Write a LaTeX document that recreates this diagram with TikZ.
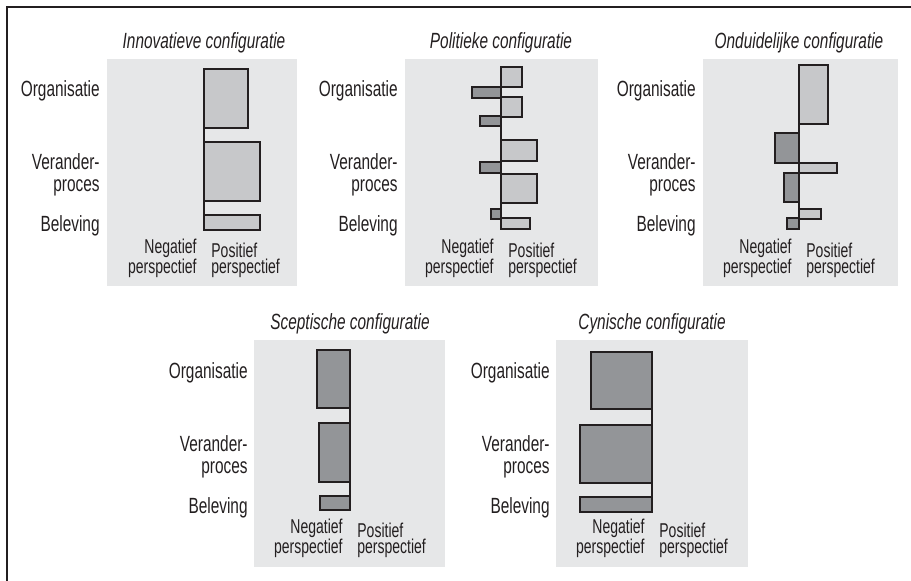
\documentclass[tikz,border=0pt]{standalone}
\usepackage{fontspec}
\setmainfont{Liberation Sans}[FakeStretch=0.7]
\definecolor{panelgrey}{HTML}{E6E7E8}
\definecolor{poscol}{HTML}{C7C8CA}
\definecolor{negcol}{HTML}{939598}
\definecolor{ink}{HTML}{231F20}
\tikzset{
  panel/.style={fill=panelgrey},
  posbar/.style={draw=ink,fill=poscol,line width=0.6pt},
  negbar/.style={draw=ink,fill=negcol,line width=0.6pt},
  axisline/.style={draw=ink,line width=0.6pt},
  title/.style={anchor=base,inner sep=0pt,text=ink,font=\itshape\fontsize{11}{12}\selectfont},
  rowlabel/.style={anchor=base east,align=right,inner sep=0pt,text=ink,font=\fontsize{11}{11}\selectfont},
  neglabel/.style={anchor=base east,align=right,inner sep=0pt,text=ink,font=\fontsize{10}{8.2}\selectfont},
  poslabel/.style={anchor=base west,align=left,inner sep=0pt,text=ink,font=\fontsize{10}{8.2}\selectfont}
}
\begin{document}
\begin{tikzpicture}[x=0.5pt,y=-0.5pt]
      \useasboundingbox (0,0) rectangle (911,581);
      % frame
      \draw[ink,line width=0.8pt] (7,581) -- (7,7) -- (911,7);
      % innovatieve configuratie
      \begin{scope}[shift={(204,59)}]
        \fill[panel] (-97,0) rectangle (93,227);
        \draw[posbar] (0,10) rectangle (44,69);
        \draw[posbar] (0,83) rectangle (56,142);
        \draw[posbar] (0,156) rectangle (56,171);
        \draw[axisline] (0,10) -- (0,171);
        \node[title] (t1) at (0,-10) {Innovatieve configuratie};
        \node[rowlabel] (org1) at (-104,38) {Organisatie};
        \node[rowlabel] (proc1) at (-104,133) {Verander-\\proces};
        \node[rowlabel] (bel1) at (-104,173) {Beleving};
        \node[neglabel] (neg1) at (-7,215) {Negatief\\perspectief};
        \node[poslabel] (pos1) at (7,215) {Positief\\perspectief};
      \end{scope}
      % politieke configuratie
      \begin{scope}[shift={(501,59)}]
        \fill[panel] (-96,0) rectangle (97,227);
        \draw[posbar] (0,8) rectangle (21,28);
        \draw[negbar] (-29,28) rectangle (0,39);
        \draw[posbar] (0,38) rectangle (21,58);
        \draw[negbar] (-21,57) rectangle (0,67);
        \draw[posbar] (0,81) rectangle (36,102);
        \draw[negbar] (-21,103) rectangle (0,114);
        \draw[posbar] (0,115) rectangle (36,144);
        \draw[negbar] (-10,150) rectangle (0,160);
        \draw[posbar] (0,159) rectangle (29,170);
        \draw[axisline] (0,8) -- (0,170);
        \node[title] (t2) at (0,-10) {Politieke configuratie};
        \node[rowlabel] (org2) at (-103,38) {Organisatie};
        \node[rowlabel] (proc2) at (-103,133) {Verander-\\proces};
        \node[rowlabel] (bel2) at (-103,173) {Beleving};
        \node[neglabel] (neg2) at (-7,215) {Negatief\\perspectief};
        \node[poslabel] (pos2) at (7,215) {Positief\\perspectief};
      \end{scope}
      % onduidelijke configuratie
      \begin{scope}[shift={(799,59)}]
        \fill[panel] (-96,0) rectangle (99,227);
        \draw[posbar] (0,6) rectangle (29,65);
        \draw[negbar] (-24,74) rectangle (0,104);
        \draw[posbar] (0,104) rectangle (38,114);
        \draw[negbar] (-15,114) rectangle (0,143);
        \draw[posbar] (0,150) rectangle (22,160);
        \draw[negbar] (-12,159) rectangle (0,170);
        \draw[axisline] (0,6) -- (0,170);
        \node[title] (t3) at (0,-10) {Onduidelijke configuratie};
        \node[rowlabel] (org3) at (-103,38) {Organisatie};
        \node[rowlabel] (proc3) at (-103,133) {Verander-\\proces};
        \node[rowlabel] (bel3) at (-103,173) {Beleving};
        \node[neglabel] (neg3) at (-7,215) {Negatief\\perspectief};
        \node[poslabel] (pos3) at (7,215) {Positief\\perspectief};
      \end{scope}
      % sceptische configuratie
      \begin{scope}[shift={(350,340)}]
        \fill[panel] (-96,0) rectangle (95,227);
        \draw[negbar] (-33,10) rectangle (0,68);
        \draw[negbar] (-31,83) rectangle (0,142);
        \draw[negbar] (-30,156) rectangle (0,170);
        \draw[axisline] (0,10) -- (0,170);
        \node[title] (t4) at (0,-10) {Sceptische configuratie};
        \node[rowlabel] (org4) at (-102,39) {Organisatie};
        \node[rowlabel] (proc4) at (-102,134) {Verander-\\proces};
        \node[rowlabel] (bel4) at (-102,174) {Beleving};
        \node[neglabel] (neg4) at (-7,214) {Negatief\\perspectief};
        \node[poslabel] (pos4) at (7,214) {Positief\\perspectief};
      \end{scope}
      % cynische configuratie
      \begin{scope}[shift={(652,340)}]
        \fill[panel] (-96,0) rectangle (96,227);
        \draw[negbar] (-61,12) rectangle (0,69);
        \draw[negbar] (-72,85) rectangle (0,143);
        \draw[negbar] (-72,157) rectangle (0,172);
        \draw[axisline] (0,12) -- (0,172);
        \node[title] (t5) at (0,-10) {Cynische configuratie};
        \node[rowlabel] (org5) at (-102,39) {Organisatie};
        \node[rowlabel] (proc5) at (-102,134) {Verander-\\proces};
        \node[rowlabel] (bel5) at (-102,174) {Beleving};
        \node[neglabel] (neg5) at (-7,214) {Negatief\\perspectief};
        \node[poslabel] (pos5) at (7,214) {Positief\\perspectief};
      \end{scope}
    \end{tikzpicture}
\end{document}
